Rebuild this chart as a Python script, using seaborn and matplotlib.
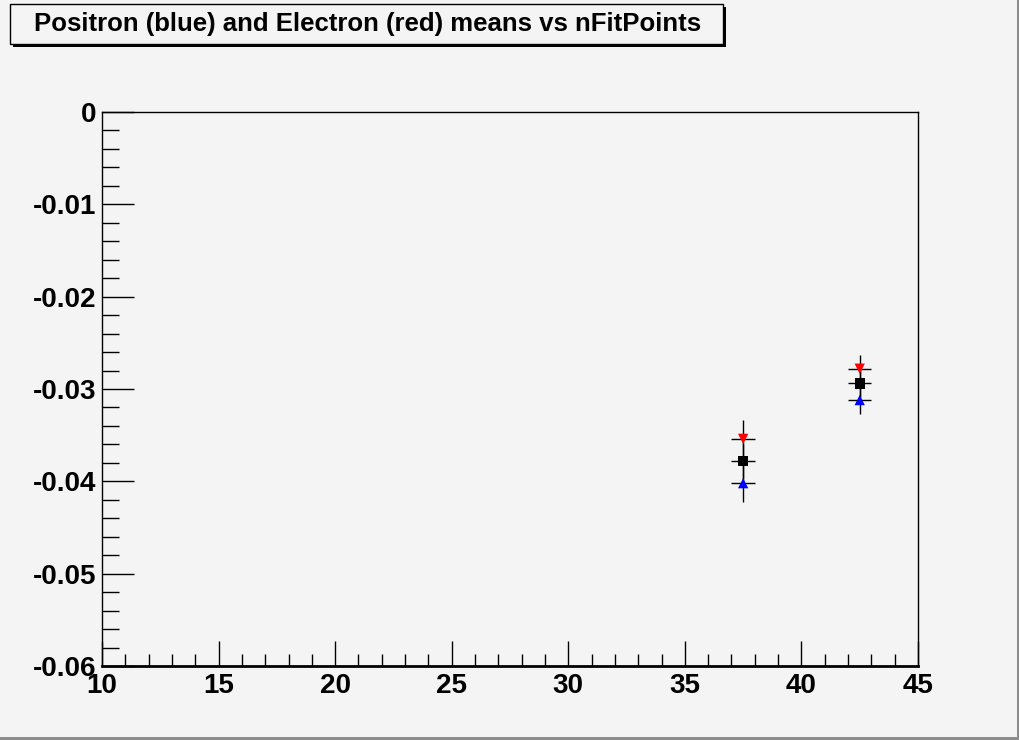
import numpy as np
import pandas as pd
import matplotlib
matplotlib.use("Agg")
import matplotlib.pyplot as plt
from matplotlib.patches import Rectangle
from matplotlib.ticker import MultipleLocator
import seaborn as sns

# ---- data ----
nfit = [37.5, 42.5]
pos_mean = [-0.0402, -0.0312]   # blue, positron
ele_mean = [-0.0354, -0.0278]   # red, electron
all_mean = [-0.0378, -0.0294]   # black, combined
mean_err = [0.0020, 0.0015]
bin_half = [0.5, 0.5]

sns.set_theme(style="ticks")
plt.rcParams["font.family"] = ["Liberation Sans", "DejaVu Sans"]
plt.rcParams["font.weight"] = "bold"
plt.rcParams["text.color"] = "black"
plt.rcParams["xtick.labelcolor"] = "black"
plt.rcParams["ytick.labelcolor"] = "black"

bg = "#f4f4f4"
fig = plt.figure(figsize=(10.2, 7.4), dpi=100, facecolor=bg)
ax = fig.add_axes([0.1, 0.1, 0.8, 1 - 112 / 740 - 0.1])
ax.set_facecolor(bg)

df = pd.concat([
    pd.DataFrame({"x": nfit, "y": ele_mean, "err": mean_err, "kind": "electron"}),
    pd.DataFrame({"x": nfit, "y": all_mean, "err": mean_err, "kind": "all"}),
    pd.DataFrame({"x": nfit, "y": pos_mean, "err": mean_err, "kind": "positron"}),
])

# error bars (black, ROOT style)
for _, r in df.iterrows():
    ax.errorbar(r["x"], r["y"], xerr=bin_half[0], yerr=r["err"], fmt="none",
                ecolor="black", elinewidth=1, capsize=0, zorder=2)

sns.scatterplot(data=df, x="x", y="y", hue="kind", style="kind",
                palette={"electron": "red", "all": "black", "positron": "blue"},
                markers={"electron": "v", "all": "s", "positron": "^"},
                s=55, edgecolor="none", legend=False, ax=ax, zorder=3)

ax.set_xlim(10, 45)
ax.set_ylim(-0.06, 0)
ax.set_xlabel("")
ax.set_ylabel("")
ax.xaxis.set_major_locator(MultipleLocator(5))
ax.xaxis.set_minor_locator(MultipleLocator(1))
ax.yaxis.set_major_locator(MultipleLocator(0.01))
ax.yaxis.set_minor_locator(MultipleLocator(0.002))
ax.yaxis.set_major_formatter(matplotlib.ticker.FuncFormatter(
    lambda v, p: "0" if abs(v) < 1e-9 else f"{v:.2f}"))
ax.tick_params(axis="both", which="both", direction="in", top=False, right=False,
               color="black", labelcolor="black", labelsize=20, width=1)
ax.tick_params(axis="x", which="major", length=18, pad=5)
ax.tick_params(axis="x", which="minor", length=9)
ax.tick_params(axis="y", which="major", length=23, pad=4)
ax.tick_params(axis="y", which="minor", length=12)
for lab in ax.get_xticklabels() + ax.get_yticklabels():
    lab.set_fontweight("bold")
for sp in ax.spines.values():
    sp.set_visible(True)
    sp.set_color("black")
    sp.set_linewidth(1)
ax.spines["bottom"].set_linewidth(2)

# title box with shadow
fig.patches.append(Rectangle((13 / 1020, 1 - 47 / 740), 713 / 1020, 40 / 740,
                             transform=fig.transFigure, facecolor="black",
                             edgecolor="none", zorder=5))
fig.patches.append(Rectangle((10 / 1020, 1 - 44 / 740), 713 / 1020, 40 / 740,
                             transform=fig.transFigure, facecolor=bg,
                             edgecolor="black", linewidth=1, zorder=6))
fig.text(368 / 1020, 1 - 24 / 740, "Positron (blue) and Electron (red) means vs nFitPoints",
         ha="center", va="center", fontsize=18.5, fontweight="bold", color="black", zorder=7)

# canvas bevel
fig.patches.append(Rectangle((0, 0), 1, 3 / 740, transform=fig.transFigure,
                             facecolor="#8c8c8c", edgecolor="none", zorder=4))
fig.patches.append(Rectangle((1 - 3 / 1020, 0), 3 / 1020, 1, transform=fig.transFigure,
                             facecolor="#8c8c8c", edgecolor="none", zorder=4))

fig.savefig("out.png", dpi=100, facecolor=bg)
